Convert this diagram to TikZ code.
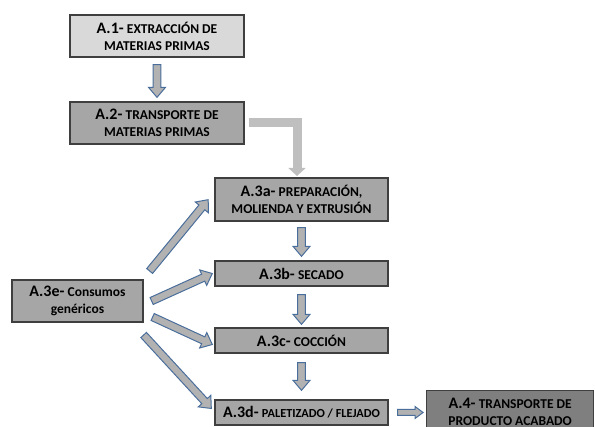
\documentclass[tikz,border=0pt]{standalone}
\usepackage{fontspec}
\setmainfont{Carlito}
\usetikzlibrary{calc,arrows.meta}

\definecolor{boxline}{HTML}{3F3F3F}
\definecolor{lightfill}{HTML}{D9D9D9}
\definecolor{midfill}{HTML}{A6A6A6}
\definecolor{darkfill}{HTML}{7F7F7F}
\definecolor{arrline}{HTML}{4A6E9C}
\definecolor{arrfill}{HTML}{B2B2B2}
\definecolor{elbowgray}{HTML}{BFBFBF}

\newcommand{\actid}[1]{{\fontsize{16}{17}\selectfont #1}}
\newcommand{\acttxt}[1]{{\fontsize{13.5}{17}\selectfont #1}}

\def\arrsw{3.8}
\def\arrhw{8.5}
\def\arrhl{10}
\newcommand{\blockarrow}[2]{%
	\draw[blockarr] let \p1=(#1), \p2=(#2), \n1={atan2(\y2-\y1,\x2-\x1)}, \n2={veclen(\x2-\x1,\y2-\y1)} in
		[shift={(\p1)}, rotate=\n1] (0,-\arrsw) -- ({\n2-\arrhl},-\arrsw) -- ({\n2-\arrhl},-\arrhw) -- (\n2,0) -- ({\n2-\arrhl},\arrhw) -- ({\n2-\arrhl},\arrsw) -- (0,\arrsw) -- cycle;
}

\tikzset{
	actbox/.style={draw=boxline, line width=1.3pt, fill=midfill, inner sep=0pt, align=center, font=\bfseries\fontsize{14}{17}\selectfont, minimum width=173pt},
	blockarr/.style={draw=arrline, fill=arrfill, line width=1pt, line join=miter},
	elbow/.style={draw=elbowgray, line width=9pt, -{Triangle[width=17pt,length=8pt]}}
}

\begin{document}
\begin{tikzpicture}[x=1pt,y=1pt]
	\useasboundingbox (0,0) rectangle (595,-427);
	\clip (0,0) rectangle (595,-427);

	\node[actbox, fill=lightfill, minimum width=174pt, minimum height=42pt] (a1) at (157,-36) {\actid{A.1-} \acttxt{EXTRACCIÓN DE}\\\acttxt{MATERIAS PRIMAS}};
	\node[actbox, minimum width=174pt, minimum height=42pt] (a2) at (157,-123) {\actid{A.2-} \acttxt{TRANSPORTE DE}\\\acttxt{MATERIAS PRIMAS}};
	\node[actbox, minimum height=43pt] (a3a) at (301.5,-199.5) {\actid{A.3a-} \acttxt{PREPARACIÓN,}\\\acttxt{MOLIENDA Y EXTRUSIÓN}};
	\node[actbox, minimum height=25pt] (a3b) at (301.5,-273.5) {\actid{A.3b-} \acttxt{SECADO}};
	\node[actbox, minimum height=25pt] (a3c) at (301.5,-340.5) {\actid{A.3c-} \acttxt{COCCIÓN}};
	\node[actbox, minimum height=25pt] (a3d) at (301.5,-412.5) {\actid{A.3d-} {\fontsize{12.3}{17}\selectfont PALETIZADO / FLEJADO}};
	\node[actbox, minimum width=131pt, minimum height=42pt] (a3e) at (77.5,-301) {\actid{A.3e-} \acttxt{Consumos}\\\acttxt{genéricos}};
	\node[actbox, fill=darkfill, minimum width=167pt, minimum height=42pt, anchor=north west] (a4) at (426,-390) {\actid{A.4-} \acttxt{TRANSPORTE DE}\\\acttxt{PRODUCTO ACABADO}};

	\coordinate (e1) at (297,-176);
	\draw[elbow] ($(a2.east)+(4,0)$) -| (e1);

	\coordinate (t1) at ($(a1.south)+(0,-7)$);
	\coordinate (h1) at ($(a2.north)+(0,4)$);
	\coordinate (t2) at ($(a3a.south)+(0,-6)$);
	\coordinate (h2) at ($(a3b.north)+(0,4)$);
	\coordinate (t3) at ($(a3b.south)+(0,-8)$);
	\coordinate (h3) at ($(a3c.north)+(0,3)$);
	\coordinate (t4) at ($(a3c.south)+(0,-9)$);
	\coordinate (h4) at ($(a3d.north)+(0,9)$);
	\foreach \i in {1,...,4}{
	\blockarrow{t\i}{h\i}
	}

	\coordinate (d1) at ($(a3e.east)+(6,30)$);
	\coordinate (g1) at ($(a3a.west)+(-6,0)$);
	\coordinate (d2) at ($(a3e.east)+(8,0)$);
	\coordinate (g2) at ($(a3b.west)+(-2,0)$);
	\coordinate (d3) at ($(a3e.east)+(9,-16)$);
	\coordinate (g3) at ($(a3c.west)+(-2,-4)$);
	\coordinate (d4) at ($(a3e.east)+(0,-34)$);
	\coordinate (g4) at ($(a3d.west)+(-3,4)$);
	\foreach \i in {1,...,4}{
	\blockarrow{d\i}{g\i}
	}

	\coordinate (f1) at ($(a3d.east)+(9,0)$);
	\coordinate (f2) at ($(a4.west |- a3d.east)+(-3,0)$);
	{\def\arrsw{3}\def\arrhw{6}\def\arrhl{8}
	\blockarrow{f1}{f2}}
\end{tikzpicture}
\end{document}
